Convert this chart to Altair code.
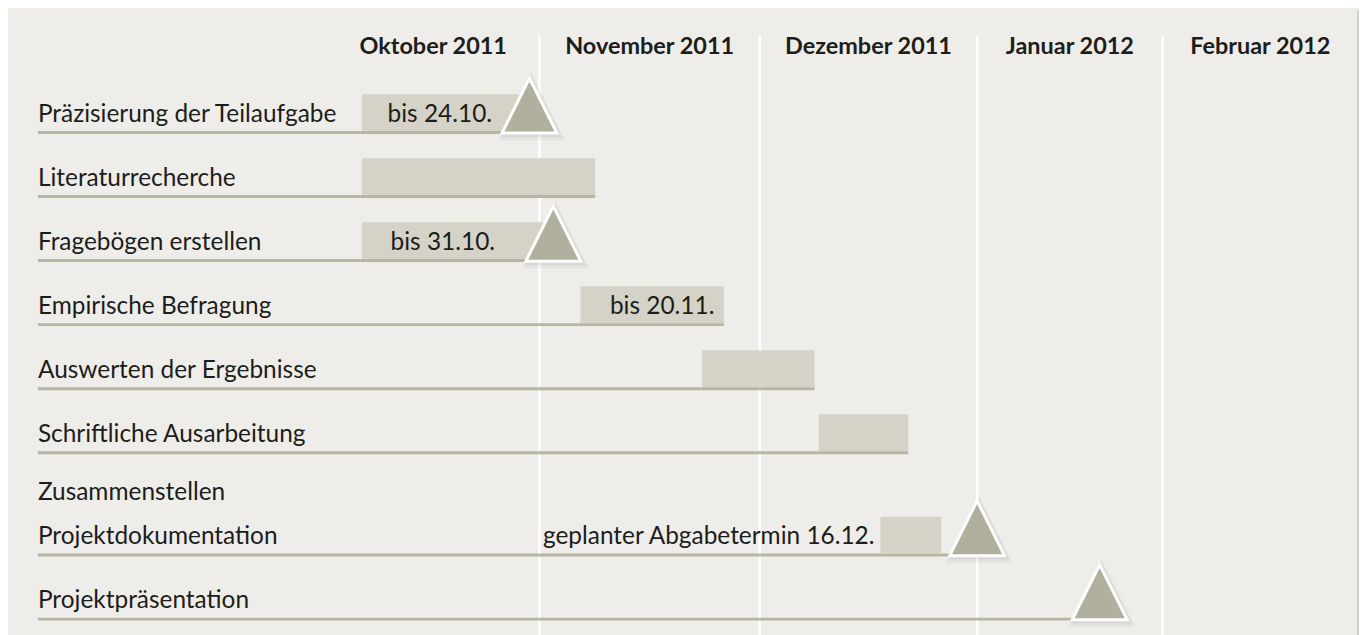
import altair as alt
import pandas as pd

# ---- data ----
# x positions are in "months since 1 Oct 2011" (Oct = 0..1, Nov = 1..2, ...);
# -1 stands for the left edge of the task-label column
tasks = [
    "Präzisierung der Teilaufgabe",
    "Literaturrecherche",
    "Fragebögen erstellen",
    "Empirische Befragung",
    "Auswerten der Ergebnisse",
    "Schriftliche Ausarbeitung",
    "Zusammenstellen\nProjektdokumentation",
    "Projektpräsentation",
]
bar_start = [0.164, 0.164, 0.164, 1.186, 1.738, 2.271, 2.555, None]
bar_end = [0.953, 1.253, 1.063, 1.837, 2.252, 2.683, 2.835, None]
milestone = [0.953, None, 1.063, None, None, None, 3.0, 3.661]
notes = ["bis 24.10.", "", "bis 31.10.", "bis 20.11.", "", "", "geplanter Abgabetermin 16.12.", ""]
note_pos = [0.531, None, 0.545, 1.557, None, None, 2.528, None]
note_align = ["center", "", "center", "center", "", "", "right", ""]

months = ["Oktober 2011", "November 2011", "Dezember 2011", "Januar 2012", "Februar 2012"]
month_center = [0.5, 1.5, 2.5, 3.5, 4.5]
month_bounds = [1, 2, 3, 4]
LABEL_COL = -1

# ---- build tables ----
LINE_STEP = 0.685  # spacing of wrapped label lines, in row units
label_lines = [t.count("\n") + 1 for t in tasks]
baseline = []
b = 0.0
for i, n in enumerate(label_lines):
    b = 1.0 if i == 0 else b + 1.0 + 0.6 * (n - 1)
    baseline.append(b)

rows = pd.DataFrame({
    "task": tasks,
    "baseline": baseline,
    "start": bar_start,
    "end": bar_end,
    "milestone": milestone,
    "note": notes,
    "note_pos": note_pos,
    "note_align": note_align,
})
rows["bar_top"] = rows["baseline"] - 0.6
rows["bar_bottom"] = rows["baseline"] - 0.025
rows["tri_y"] = rows["baseline"] - 0.42
rows["line_start"] = LABEL_COL
rows["line_end"] = rows[["end", "milestone"]].max(axis=1)

label_recs = []
for task, base in zip(tasks, baseline):
    parts = task.split("\n")
    n = len(parts)
    for k, p in enumerate(parts):
        label_recs.append({"text": p, "y": base - (n - 1 - k) * LINE_STEP, "x": LABEL_COL})
label_df = pd.DataFrame(label_recs)

bars = rows.dropna(subset=["start"])[["start", "end", "bar_top", "bar_bottom"]]
tris = rows.dropna(subset=["milestone"])[["milestone", "tri_y"]]
notes_c = rows[rows["note_align"] == "center"][["note", "note_pos", "baseline"]]
notes_r = rows[rows["note_align"] == "right"][["note", "note_pos", "baseline"]]
lines_df = rows[["task", "baseline", "line_start", "line_end"]]

mdf = pd.DataFrame({"month": months, "center": month_center})
bdf = pd.DataFrame({"bound": month_bounds})

# ---- scales ----
W, H = 1355, 627
xscale = alt.Scale(domain=[-1, 0, 1, 2, 3, 4, 5],
                   range=[30, 320, 533, 754, 972, 1158, 1354],
                   zero=False, nice=False)
yscale = alt.Scale(domain=[1, 8.6], range=[123, 611], zero=False, nice=False)

FONT = "Lato"
FS = 24.5
TXT = "#1d1d1b"
DY = -11

grid = alt.Chart(bdf).mark_rule(color="white", strokeWidth=2.5).encode(
    x=alt.X("bound:Q", scale=xscale, axis=None),
    y=alt.value(26), y2=alt.value(H),
)

row_lines = alt.Chart(lines_df).mark_rule(color="#b8b5a3", strokeWidth=3).encode(
    x=alt.X("line_start:Q", scale=xscale, axis=None),
    x2="line_end:Q",
    y=alt.Y("baseline:Q", scale=yscale, axis=None),
)

bar_layer = alt.Chart(bars).mark_rect(color="#d5d3c7").encode(
    x=alt.X("start:Q", scale=xscale, axis=None),
    x2="end:Q",
    y=alt.Y("bar_top:Q", scale=yscale, axis=None),
    y2="bar_bottom:Q",
)

TRI = "M0,-1L1,1L-1,1Z"
shadow1 = alt.Chart(tris).mark_point(
    shape=TRI, filled=True, color="#000000", opacity=0.04, size=4600, xOffset=2, yOffset=1
).encode(
    x=alt.X("milestone:Q", scale=xscale, axis=None),
    y=alt.Y("tri_y:Q", scale=yscale, axis=None),
)
shadow2 = alt.Chart(tris).mark_point(
    shape=TRI, filled=True, color="#000000", opacity=0.05, size=3700, xOffset=2, yOffset=1
).encode(
    x=alt.X("milestone:Q", scale=xscale, axis=None),
    y=alt.Y("tri_y:Q", scale=yscale, axis=None),
)

tri_layer = alt.Chart(tris).mark_point(
    shape=TRI, filled=True, fill="#b1af9d", stroke="white", strokeWidth=3,
    opacity=1, size=3025,
).encode(
    x=alt.X("milestone:Q", scale=xscale, axis=None),
    y=alt.Y("tri_y:Q", scale=yscale, axis=None),
)

note_c_layer = alt.Chart(notes_c).mark_text(
    font=FONT, fontSize=FS, color=TXT, align="center", baseline="alphabetic", dy=DY
).encode(
    x=alt.X("note_pos:Q", scale=xscale, axis=None),
    y=alt.Y("baseline:Q", scale=yscale, axis=None),
    text="note:N",
)

note_r_layer = alt.Chart(notes_r).mark_text(
    font=FONT, fontSize=FS, color=TXT, align="right", baseline="alphabetic", dy=DY
).encode(
    x=alt.X("note_pos:Q", scale=xscale, axis=None),
    y=alt.Y("baseline:Q", scale=yscale, axis=None),
    text="note:N",
)

labels = alt.Chart(label_df).mark_text(
    font=FONT, fontSize=FS, color=TXT, align="left", baseline="alphabetic", dy=DY,
).encode(
    x=alt.X("x:Q", scale=xscale, axis=None),
    y=alt.Y("y:Q", scale=yscale, axis=None),
    text="text:N",
)

headers = alt.Chart(mdf).mark_text(
    font=FONT, fontSize=23.5, fontWeight="bold", color=TXT, align="center", baseline="middle"
).encode(
    x=alt.X("center:Q", scale=xscale, axis=None),
    y=alt.value(37),
    text="month:N",
)

edge = alt.Chart(bdf).mark_rule(color="#d0d0d0", strokeWidth=1.5).encode(
    x=alt.value(W - 1), y=alt.value(0), y2=alt.value(H)
)

chart = alt.layer(
    grid, row_lines, bar_layer, shadow1, shadow2, tri_layer,
    note_c_layer, note_r_layer, labels, headers, edge
).properties(
    width=W, height=H, padding=0, background="#efede9"
).configure_view(stroke=None)

chart.save("out.html", embed_options={"renderer": "svg", "actions": False})
